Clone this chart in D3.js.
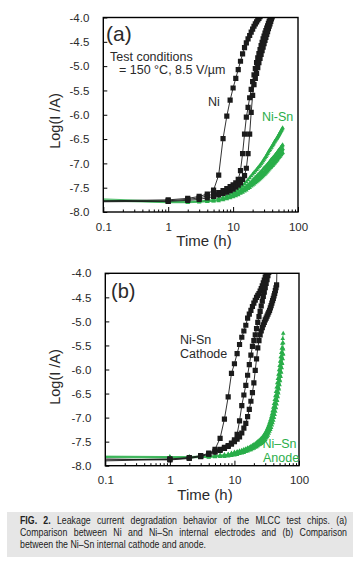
<!DOCTYPE html>
<html><head><meta charset="utf-8">
<script src="https://cdn.jsdelivr.net/npm/d3@7"></script>
<style>body{margin:0;background:#fff}svg{display:block}</style>
</head><body>
<svg id="c" width="360" height="566"></svg>
<script>
// ---------- DATA ----------
// time points (h): first point is the line start at 0.1 h (no marker), then hourly readings
const hours = [0.1,1,2,3,4,5,6,7,8,9,10,11,12,13,14,15,16,17,18,19,20,21,22,23,24,25,26,27,28,29,30,
  31,32,33,34,35,36,37,38,39,40,41,42,43,44,45,46,47,48,49,50,51,52,53,54,55,56,57,58];
const xTickValues = [0.1, 1, 10, 100];
const xTickLabels = ["0.1", "1", "10", "100"];
const yTickValues = [-4.0, -4.5, -5.0, -5.5, -6.0, -6.5, -7.0, -7.5, -8.0];
const yTickLabels = ["-4.0", "-4.5", "-5.0", "-5.5", "-6.0", "-6.5", "-7.0", "-7.5", "-8.0"];

// (a) Ni electrodes (black squares)
const niA1 = [-7.77,-7.75,-7.72,-7.68,-7.63,-7.55,-7.24,-6.49,-6.03,-5.70,-5.45,-5.25,-5.07,-4.90,-4.75,-4.62,-4.52,-4.44,-4.37,-4.30,-4.24,-4.18,-4.13,-4.09,-4.05,-4.02,-3.98];
const niA2 = [-7.78,-7.77,-7.74,-7.71,-7.67,-7.63,-7.60,-7.56,-7.52,-7.48,-7.44,-7.40,-7.33,-7.15,-6.80,-6.40,-6.05,-5.85,-5.65,-5.48,-5.32,-5.18,-5.05,-4.93,-4.83,-4.74,-4.66,-4.58,-4.51,-4.44,-4.38,-4.32,-4.27,-4.22,-4.17,-4.12,-4.08,-4.03,-3.99];
const niA3 = [-7.79,-7.78,-7.76,-7.74,-7.71,-7.68,-7.65,-7.62,-7.59,-7.56,-7.53,-7.49,-7.45,-7.40,-7.33,-7.25,-7.10,-6.80,-6.40,-5.95,-5.60,-5.38,-5.25,-5.15,-5.03,-4.93,-4.84,-4.76,-4.68,-4.61,-4.54,-4.47,-4.41,-4.35,-4.29,-4.23,-4.18,-4.13,-4.08,-4.03,-3.99];
// (a) Ni-Sn electrodes (green triangles)
const snA1 = [-7.73,-7.78,-7.78,-7.77,-7.76,-7.74,-7.72,-7.70,-7.67,-7.64,-7.61,-7.58,-7.54,-7.50,-7.46,-7.42,-7.38,-7.34,-7.30,-7.26,-7.22,
  -7.19,-7.16,-7.13,-7.10,-7.07,-7.04,-7.01,-6.98,-6.95,-6.92,-6.89,-6.86,-6.83,-6.80,-6.77,-6.74,-6.72,-6.69,-6.67,-6.64,
  -6.62,-6.60,-6.57,-6.55,-6.53,-6.51,-6.49,-6.47,-6.45,-6.43,-6.41,-6.39,-6.37,-6.35,-6.33,-6.31,-6.29,-6.27];
const snA2 = [-7.75,-7.79,-7.79,-7.78,-7.77,-7.76,-7.74,-7.72,-7.70,-7.68,-7.65,-7.62,-7.59,-7.56,-7.53,-7.50,-7.47,-7.44,-7.41,-7.38,-7.35,
  -7.32,-7.29,-7.27,-7.24,-7.22,-7.19,-7.17,-7.15,-7.12,-7.10,-7.08,-7.06,-7.04,-7.02,-7.00,-6.98,-6.96,-6.94,-6.92,-6.91,
  -6.89,-6.87,-6.86,-6.84,-6.82,-6.81,-6.79,-6.78,-6.76,-6.74,-6.73,-6.71,-6.70,-6.68,-6.67,-6.65,-6.64,-6.62];
const snA3 = [-7.76,-7.80,-7.80,-7.79,-7.78,-7.77,-7.75,-7.73,-7.71,-7.69,-7.67,-7.64,-7.62,-7.59,-7.56,-7.54,-7.51,-7.48,-7.46,-7.43,-7.40,
  -7.38,-7.35,-7.33,-7.31,-7.28,-7.26,-7.24,-7.22,-7.20,-7.18,-7.16,-7.14,-7.12,-7.10,-7.08,-7.06,-7.04,-7.02,-7.01,-6.99,
  -6.97,-6.96,-6.94,-6.92,-6.91,-6.89,-6.88,-6.86,-6.85,-6.83,-6.81,-6.80,-6.78,-6.77,-6.75,-6.74,-6.72,-6.70];
const snA4 = [-7.77,-7.81,-7.81,-7.80,-7.79,-7.78,-7.77,-7.75,-7.73,-7.71,-7.69,-7.67,-7.65,-7.62,-7.60,-7.57,-7.55,-7.52,-7.50,-7.47,-7.45,
  -7.43,-7.40,-7.38,-7.36,-7.34,-7.32,-7.30,-7.28,-7.26,-7.24,-7.22,-7.20,-7.18,-7.16,-7.14,-7.12,-7.10,-7.09,-7.07,-7.05,
  -7.04,-7.02,-7.00,-6.99,-6.97,-6.96,-6.94,-6.93,-6.91,-6.89,-6.88,-6.86,-6.85,-6.83,-6.82,-6.80,-6.79,-6.78];

// (b) Ni-Sn cathode (black squares)
const caB1 = [-7.86,-7.88,-7.85,-7.81,-7.76,-7.66,-7.43,-7.03,-6.57,-6.08,-5.88,-5.67,-5.48,-5.33,-5.20,-5.08,-4.93,-4.85,-4.77,-4.69,-4.62,-4.56,-4.50,-4.46,-4.42,-4.37,-4.32,-4.26,-4.20,-4.14,-4.08,-4.03,-3.98];
const caB2 = [-7.88,-7.86,-7.83,-7.79,-7.74,-7.70,-7.66,-7.62,-7.58,-7.53,-7.46,-7.35,-7.07,-6.75,-6.53,-6.33,-6.12,-5.90,-5.70,-5.52,-5.40,-5.28,-5.15,-5.02,-4.90,-4.79,-4.68,-4.58,-4.48,-4.39,-4.30,-4.21,-4.13,-4.05,-3.98];
const caB3 = [-7.90,-7.87,-7.84,-7.80,-7.76,-7.72,-7.68,-7.64,-7.60,-7.55,-7.50,-7.45,-7.40,-7.32,-7.22,-7.12,-6.98,-6.83,-6.66,-6.48,-6.28,-6.02,-5.78,-5.55,-5.40,-5.28,-5.20,-5.13,-5.07,-5.02,-4.97,
  -4.93,-4.89,-4.85,-4.81,-4.77,-4.72,-4.67,-4.62,-4.57,-4.52,-4.47,-4.42,-4.36,-4.30,-4.24,-3.60];
// (b) Ni-Sn anode (green triangles)
const anB1 = [-7.80,-7.81,-7.81,-7.80,-7.80,-7.79,-7.78,-7.77,-7.76,-7.74,-7.72,-7.71,-7.69,-7.68,-7.66,-7.65,-7.63,-7.62,-7.60,-7.58,-7.56,
  -7.54,-7.52,-7.50,-7.48,-7.46,-7.43,-7.41,-7.38,-7.35,-7.32,-7.28,-7.24,-7.20,-7.15,-7.10,-7.05,-6.99,-6.93,-6.86,-6.79,
  -6.71,-6.63,-6.55,-6.46,-6.37,-6.28,-6.19,-6.10,-6.01,-5.92,-5.83,-5.74,-5.65,-5.56,-5.46,-5.36,-5.25];
const anB2 = [-7.81,-7.82,-7.82,-7.81,-7.81,-7.80,-7.79,-7.78,-7.77,-7.75,-7.74,-7.72,-7.71,-7.69,-7.68,-7.66,-7.65,-7.63,-7.62,-7.60,-7.59,
  -7.57,-7.55,-7.53,-7.51,-7.49,-7.47,-7.45,-7.42,-7.40,-7.37,-7.34,-7.30,-7.26,-7.22,-7.18,-7.13,-7.08,-7.03,-6.97,-6.91,
  -6.84,-6.77,-6.69,-6.61,-6.53,-6.45,-6.36,-6.28,-6.19,-6.11,-6.02,-5.93,-5.84,-5.75,-5.65,-5.55,-5.45];
const anB3 = [-7.82,-7.83,-7.83,-7.82,-7.82,-7.81,-7.80,-7.79,-7.78,-7.77,-7.76,-7.74,-7.73,-7.71,-7.70,-7.68,-7.67,-7.65,-7.64,-7.62,-7.61,
  -7.59,-7.58,-7.56,-7.54,-7.52,-7.50,-7.48,-7.46,-7.44,-7.41,-7.38,-7.35,-7.31,-7.27,-7.23,-7.19,-7.14,-7.09,-7.04,-6.98,
  -6.92,-6.85,-6.78,-6.70,-6.62,-6.54,-6.46,-6.38,-6.30,-6.21,-6.13,-6.04,-5.95,-5.86,-5.77,-5.68,-5.58];
const anB4 = [-7.83,-7.84,-7.84,-7.83,-7.83,-7.82,-7.81,-7.81,-7.80,-7.79,-7.78,-7.77,-7.75,-7.74,-7.73,-7.71,-7.70,-7.68,-7.67,-7.65,-7.64,
  -7.62,-7.61,-7.59,-7.57,-7.56,-7.54,-7.52,-7.50,-7.48,-7.46,-7.43,-7.40,-7.37,-7.33,-7.29,-7.25,-7.21,-7.16,-7.11,-7.06,
  -7.00,-6.94,-6.87,-6.80,-6.72,-6.65,-6.57,-6.49,-6.41,-6.32,-6.24,-6.15,-6.06,-5.97,-5.88,-5.78,-5.68];

const captionLines = [
  [{t:"FIG.",b:1},{t:"2.",b:1},"Leakage","current","degradation","behavior","of","the","MLCC","test","chips.","(a)"],
  ["Comparison","between","Ni","and","Ni–Sn","internal","electrodes","and","(b)","Comparison"],
  ["between","the","Ni–Sn","internal","cathode","and","anode."]
];

// ---------- DRAW ----------
const GREEN = "#2aae4a", BLACK = "#1b1b1b", TEXT = "#2a2a2a";
const FONT = "'Liberation Sans', Arial, Helvetica, sans-serif";
const svg = d3.select("#c");

function panel(cfg) {
  const x = d3.scaleLog().domain([0.1, 100]).range([cfg.left, cfg.right]);
  const y = d3.scaleLinear().domain([-8, -4]).range([cfg.bottom, cfg.top]);
  const g = svg.append("g");
  const clipId = "clip" + cfg.id;
  svg.append("clipPath").attr("id", clipId).append("rect")
    .attr("x", cfg.left).attr("y", cfg.top)
    .attr("width", cfg.right - cfg.left).attr("height", cfg.bottom - cfg.top);
  const plot = g.append("g").attr("clip-path", `url(#${clipId})`);
  const line = d3.line().x(d => x(d[0])).y(d => y(d[1]));

  function drawSeries(vals, color, symbol, size, sw) {
    const pts = vals.map((v, i) => [hours[i], v]);
    plot.append("path").attr("d", line(pts)).attr("fill", "none")
      .attr("stroke", color).attr("stroke-width", sw);
    plot.append("g").selectAll("path").data(pts.filter(p => p[0] >= 1)).enter().append("path")
      .attr("transform", p => `translate(${x(p[0])},${y(p[1])})`)
      .attr("d", d3.symbol(symbol, size)).attr("fill", color);
  }
  cfg.green.forEach(v => drawSeries(v, GREEN, d3.symbolTriangle, 9, 0.8));
  cfg.black.forEach(v => drawSeries(v, BLACK, d3.symbolSquare, 27, 0.9));

  // axes
  const yAxis = d3.axisLeft(y).tickValues(yTickValues)
    .tickFormat((d, i) => yTickLabels[i]).tickSize(-4).tickPadding(14);
  const ya = g.append("g").attr("transform", `translate(${cfg.left},0)`).call(yAxis);
  const xAxis = d3.axisBottom(x).tickValues(xTickValues)
    .tickFormat((d, i) => xTickLabels[i]).tickSize(-5).tickPadding(10.5);
  const xa = g.append("g").attr("transform", `translate(0,${cfg.bottom})`).call(xAxis);
  const minor = [];
  [0.1, 1, 10].forEach(dec => { for (let k = 2; k <= 9; k++) minor.push(dec * k); });
  const xm = g.append("g").attr("transform", `translate(0,${cfg.bottom})`)
    .call(d3.axisBottom(x).tickValues(minor).tickFormat("").tickSize(-2.5));
  [ya, xa, xm].forEach(a => {
    a.select(".domain").remove();
    a.selectAll("line").attr("stroke", "#000").attr("stroke-width", 1);
    a.selectAll("text").attr("font-family", FONT).attr("font-size", 11.5).attr("fill", TEXT);
  });
  // frame
  g.append("rect").attr("x", cfg.left).attr("y", cfg.top)
    .attr("width", cfg.right - cfg.left).attr("height", cfg.bottom - cfg.top)
    .attr("fill", "none").attr("stroke", "#000").attr("stroke-width", 1.4);
  // axis titles
  g.append("text").attr("transform", `translate(${cfg.ylabX},${cfg.ylabY}) rotate(-90)`)
    .attr("text-anchor", "middle").attr("font-family", FONT).attr("font-size", 14.5)
    .attr("fill", TEXT).text("Log(I /A)");
  g.append("text").attr("x", cfg.xlabX).attr("y", cfg.xlabY)
    .attr("text-anchor", "middle").attr("font-family", FONT).attr("font-size", 15)
    .attr("fill", TEXT).text("Time (h)");
  cfg.labels.forEach(l => {
    g.append("text").attr("x", l.x).attr("y", l.y).attr("font-family", FONT)
      .attr("font-size", l.s).attr("fill", l.c || TEXT).text(l.t);
  });
}

panel({
  id: "a", left: 103.3, right: 298, top: 17.5, bottom: 212,
  green: [snA1, snA2, snA3, snA4], black: [niA1, niA2, niA3],
  ylabX: 60, ylabY: 121, xlabX: 204, xlabY: 246,
  labels: [
    {t: "(a)", x: 106, y: 41, s: 21},
    {t: "Test conditions", x: 110, y: 60.5, s: 12.5},
    {t: "= 150 °C, 8.5 V/µm", x: 119, y: 74, s: 12.5},
    {t: "Ni", x: 208, y: 106, s: 12.5},
    {t: "Ni-Sn", x: 262, y: 120.5, s: 12.5, c: GREEN}
  ]
});
panel({
  id: "b", left: 105.3, right: 299, top: 273.3, bottom: 465.7,
  green: [anB1, anB2, anB3, anB4], black: [caB1, caB2, caB3],
  ylabX: 60, ylabY: 377, xlabX: 205, xlabY: 500,
  labels: [
    {t: "(b)", x: 111, y: 298, s: 20},
    {t: "Ni-Sn", x: 180, y: 344, s: 12.5},
    {t: "Cathode", x: 180, y: 358, s: 12.5},
    {t: "Ni–Sn", x: 262.5, y: 448, s: 12.5, c: GREEN},
    {t: "Anode", x: 263, y: 462, s: 12.5, c: GREEN}
  ]
});

// caption box
const cap = svg.append("g");
cap.append("rect").attr("x", 7).attr("y", 512).attr("width", 346).attr("height", 45).attr("fill", "#e6e6e6");
const CFONT = "'Liberation Sans', Arial, sans-serif";
const capLeft = 20, capRight = 347, capBase = [524, 536, 548];
const lastLineWidth = 186;   // width of the unjustified last line in the reference
const built = captionLines.map((words, li) => {
  const ws = words.map(w => typeof w === "string" ? {t: w, b: 0} : w);
  const nodes = ws.map(w => cap.append("text").attr("x", 0).attr("y", 0)
    .attr("font-family", CFONT).attr("font-size", 10).attr("fill", "#222")
    .attr("font-weight", w.b ? "bold" : "normal").text(w.t));
  const widths = nodes.map(n => n.node().getComputedTextLength());
  return {nodes, widths};
});
// narrow-font look: horizontal compression chosen so the last line has its reference width
const spaceW = 2.8;
const last = built[built.length - 1];
const k = lastLineWidth / (d3.sum(last.widths) + spaceW * (last.widths.length - 1));
built.forEach((ln, li) => {
  const total = d3.sum(ln.widths) * k;
  const justify = li < built.length - 1;
  const gap = justify ? (capRight - capLeft - total) / (ln.nodes.length - 1) : spaceW * k;
  let cx = capLeft;
  ln.nodes.forEach((n, i) => {
    n.attr("transform", `translate(${cx},${capBase[li]}) scale(${k},1)`);
    cx += ln.widths[i] * k + gap;
  });
});
</script>
</body></html>
